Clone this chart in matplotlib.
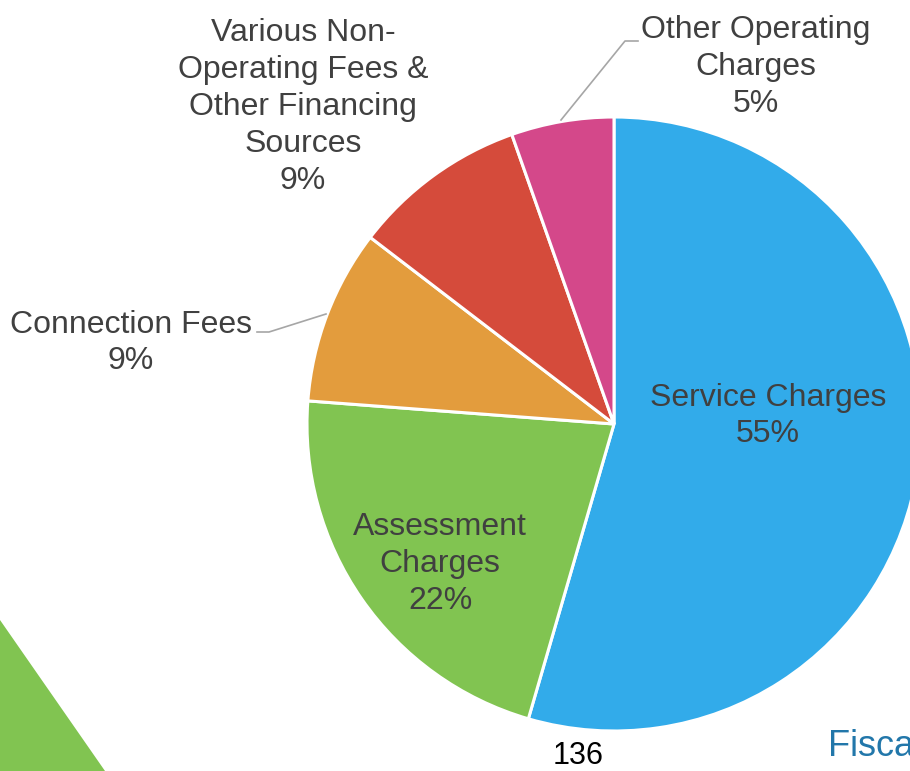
import matplotlib
matplotlib.use("Agg")
import matplotlib.pyplot as plt
from matplotlib.patches import Polygon

# ---- data ----
categories = ["Service Charges", "Assessment Charges", "Connection Fees",
              "Various Non-Operating Fees & Other Financing Sources",
              "Other Operating Charges"]
values = [54.5, 21.7, 9.2, 9.2, 5.4]
pct_labels = ["55%", "22%", "9%", "9%", "5%"]
label_texts = ["Service Charges", "Assessment\nCharges", "Connection Fees",
               "Various Non-\nOperating Fees &\nOther Financing\nSources",
               "Other Operating\nCharges"]
colors = ["#32ABEA", "#81C451", "#E39C3D", "#D54B3B", "#D4488A"]

# ---- layout (pixel coordinates, y measured from bottom) ----
W, H = 910, 771
center = (614, H - 424)
radius = 307
label_pos = [(768, H - 416), (440, H - 564), (131, H - 343), (303, H - 107), (756, H - 67)]

plt.rcParams['font.family'] = ['Liberation Sans', 'DejaVu Sans']
fig = plt.figure(figsize=(W / 100, H / 100), dpi=100)
ax = fig.add_axes([0, 0, 1, 1])

ax.pie(values, colors=colors, startangle=90, counterclock=False,
       center=center, radius=radius,
       wedgeprops=dict(edgecolor="white", linewidth=2.2))
ax.set_xlim(0, W)
ax.set_ylim(0, H)
ax.set_aspect('auto')
ax.axis('off')

txt_color = "#404040"
for (x, y), t, p in zip(label_pos, label_texts, pct_labels):
    ax.text(x, y, t + "\n" + p, ha='center', va='center', fontsize=23,
            color=txt_color, linespacing=1.30)

# leader lines
lc = "#A6A6A6"
ax.plot([561, 625, 638], [H - 120, H - 41, H - 41], color=lc, lw=1.2)
ax.plot([257, 269, 326], [H - 332, H - 332, H - 314], color=lc, lw=1.2)

# decorative page elements
ax.add_patch(Polygon([(0, H - 620), (105, 0), (0, 0)], closed=True,
                     facecolor="#81C451", edgecolor="none"))
ax.text(578, H - 756, "136", ha='center', va='center', fontsize=22, color="black")
ax.text(828, H - 746, "Fisca", ha='left', va='center', fontsize=26, color="#2277AA")

fig.savefig("out.png", dpi=100)
